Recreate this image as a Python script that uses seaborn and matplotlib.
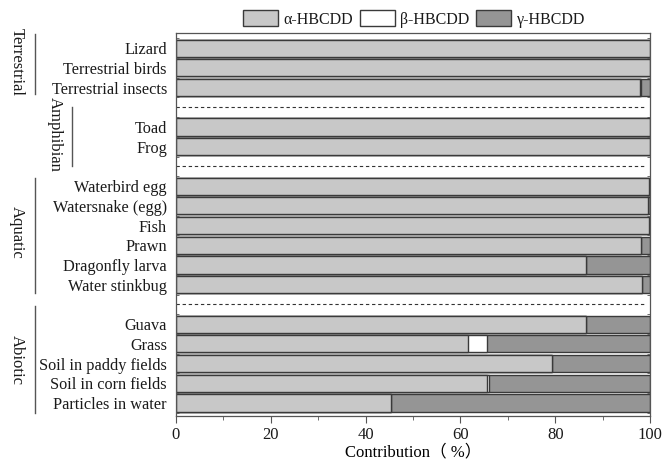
import numpy as np
import pandas as pd
import matplotlib
matplotlib.use("Agg")
import matplotlib.pyplot as plt
import seaborn as sns
from matplotlib.patches import Patch
from matplotlib.ticker import MultipleLocator

# row order, top to bottom ("sep" rows are the dashed separators)
rows = ["Lizard", "Terrestrial birds", "Terrestrial insects", "sep1",
        "Toad", "Frog", "sep2",
        "Waterbird egg", "Watersnake (egg)", "Fish", "Prawn", "Dragonfly larva",
        "Water stinkbug", "sep3",
        "Guava", "Grass", "Soil in paddy fields", "Soil in corn fields",
        "Particles in water"]

samples = ["Lizard", "Terrestrial birds", "Terrestrial insects", "Toad", "Frog",
           "Waterbird egg", "Watersnake (egg)", "Fish", "Prawn", "Dragonfly larva",
           "Water stinkbug", "Guava", "Grass", "Soil in paddy fields",
           "Soil in corn fields", "Particles in water"]
alpha_pct = [100, 100, 97.8, 100, 100, 99.8, 99.6, 99.7, 98.2, 86.6,
             98.4, 86.6, 61.7, 79.3, 65.7, 45.4]
beta_pct = [0, 0, 0.3, 0, 0, 0, 0, 0, 0, 0,
            0, 0, 4.0, 0, 0.3, 0]
gamma_pct = [100 - a - b for a, b in zip(alpha_pct, beta_pct)]

# name, bracket top row, bracket bottom row, text row, text x px, line x px
groups = [("Terrestrial", -0.7, 2.3, 0.7, 17, 35),
          ("Amphibian", 3.0, 6.0, 4.4, 55, 72),
          ("Aquatic", 6.6, 12.4, 9.35, 17, 35),
          ("Abiotic", 13.1, 18.5, 15.8, 17, 35)]

df = pd.DataFrame({"sample": samples, "a": alpha_pct, "b": beta_pct, "g": gamma_pct})
df["ab"] = df["a"] + df["b"]
df["abg"] = df["ab"] + df["g"]

c_alpha = "#c8c8c8"
c_beta = "#ffffff"
c_gamma = "#959595"
edge = "#3a3a3a"

plt.rcParams["font.family"] = ["Liberation Serif", "DejaVu Serif"]
plt.rcParams["text.color"] = "#1a1a1a"
plt.rcParams["xtick.labelcolor"] = "#1a1a1a"
plt.rcParams["ytick.labelcolor"] = "#1a1a1a"

fig = plt.figure(figsize=(6.63, 4.65), dpi=100)
ax = fig.add_axes([176 / 663, 1 - 416 / 465, 474 / 663, 383 / 465])

for col, color in [("abg", c_gamma), ("ab", c_beta), ("a", c_alpha)]:
    sns.barplot(data=df, x=col, y="sample", order=rows, color=color,
                edgecolor=edge, linewidth=1.0, width=0.87, saturation=1,
                ax=ax, orient="h")

# dashed separators
for sep in ["sep1", "sep2", "sep3"]:
    ax.hlines(rows.index(sep), 0, 99, colors="#333333", linestyles=(0, (3, 2.5)),
              linewidth=0.8)

ax.set_xlim(0, 100)
ax.set_ylim(18.66, -0.77)
ax.set_yticks(range(len(rows)))
ax.set_yticklabels([r if not r.startswith("sep") else "" for r in rows], fontsize=11.7)
ax.tick_params(axis="y", length=0, pad=6.5)
ax.yaxis.set_minor_locator(MultipleLocator(1, offset=0.5))
ax.tick_params(axis="y", which="minor", length=2.5, direction="in", left=True, right=True,
               color="#555555")
ax.xaxis.set_major_locator(MultipleLocator(20))
ax.xaxis.set_minor_locator(MultipleLocator(10))
ax.tick_params(axis="x", which="major", length=5, direction="out", labelsize=12,
               color="#555555", top=False, pad=3)
ax.tick_params(axis="x", which="minor", length=3, direction="out", color="#555555")
ax.set_xlabel("Contribution\uff08 %\uff09", fontsize=12, labelpad=1,
              family=["Liberation Serif", "Noto Sans CJK SC"])
ax.set_ylabel("")
for s in ax.spines.values():
    s.set_color("#555555")
    s.set_linewidth(0.9)

# group labels with brackets
fh = fig.bbox.height
for name, r0, r1, rt, tx, lx in groups:
    fy0 = ax.transData.transform((0, r0))[1] / fh
    fy1 = ax.transData.transform((0, r1))[1] / fh
    fyt = ax.transData.transform((0, rt))[1] / fh
    fig.add_artist(plt.Line2D([lx / 663, lx / 663], [fy0, fy1], color="#555555", lw=1.0))
    fig.text(tx / 663, fyt, name, rotation=270, ha="center", va="center", fontsize=12)

handles = [Patch(facecolor=c_alpha, edgecolor=edge, label="\u03b1-HBCDD"),
           Patch(facecolor=c_beta, edgecolor=edge, label="\u03b2-HBCDD"),
           Patch(facecolor=c_gamma, edgecolor=edge, label="\u03b3-HBCDD")]
fig.legend(handles=handles, loc="center", bbox_to_anchor=(414 / 663, 1 - 19 / 465),
           ncol=3, frameon=False, fontsize=11.5, handlelength=2.2, handleheight=1.1,
           handletextpad=0.35, columnspacing=0.4, borderaxespad=0)

fig.savefig("out.png", dpi=100)
